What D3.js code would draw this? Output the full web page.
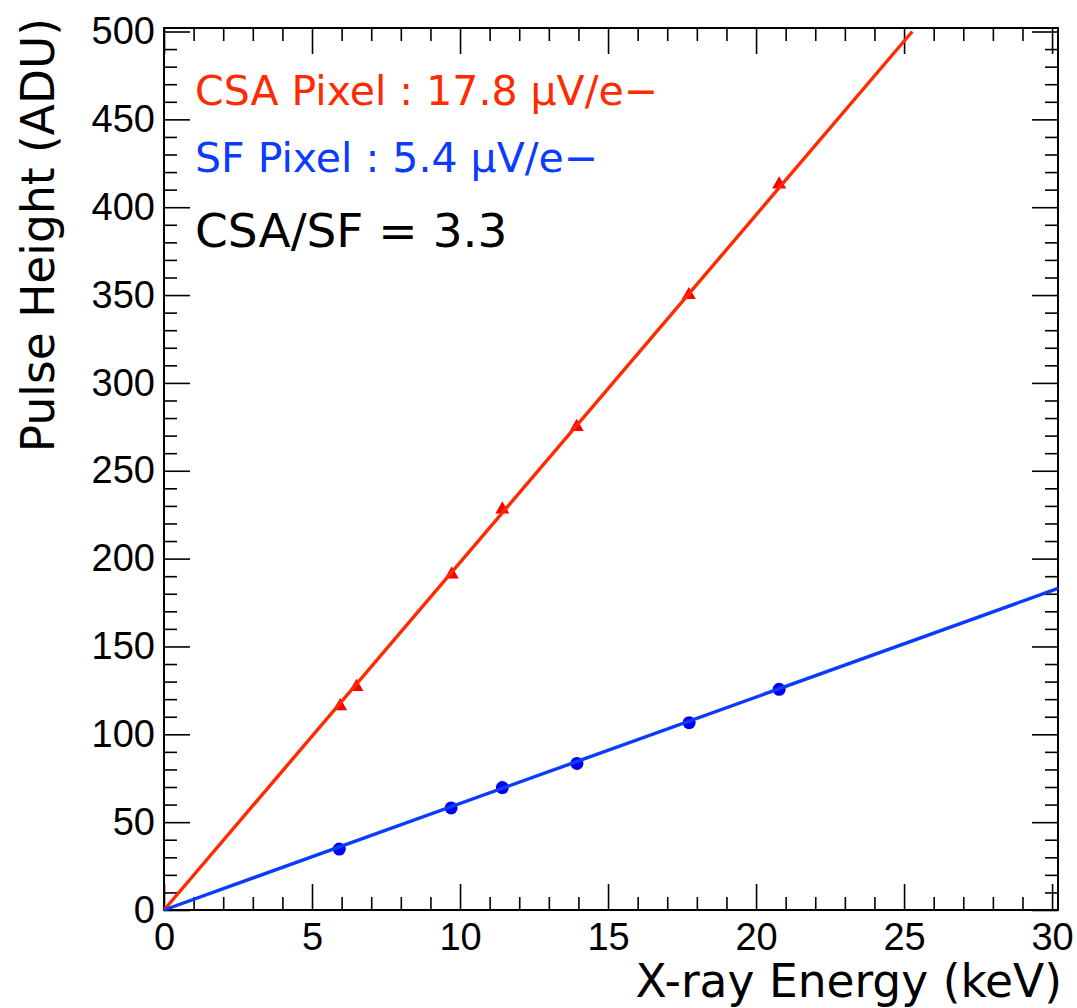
<!DOCTYPE html>
<html>
<head>
<meta charset="utf-8">
<script src="https://cdn.jsdelivr.net/npm/d3@7"></script>
<style>
  body { margin: 0; background: #fff; }
  .tick text { font-family: "Liberation Sans", Arial, sans-serif; }
</style>
</head>
<body>
<div id="chart"></div>
<script>
const width = 1077;
const height = 1008;

// Measured points (X-ray energy in keV, pulse height in ADU)
const csaEnergy = [5.95, 6.5, 9.72, 11.43, 13.94, 17.73, 20.78];
const csaHeight = [116, 127, 191, 228, 275, 350, 413];
const sfEnergy = [5.92, 9.7, 11.43, 13.95, 17.74, 20.78];
const sfHeight = [34.7, 58.1, 69.7, 83.4, 106.6, 125.6];

// Linear fits through the origin (ADU per keV)
const csaSlope = 19.78;
const sfSlope = 6.06;

const legendLines = ["CSA Pixel : 17.8 µV/e−", "SF Pixel : 5.4 µV/e−", "CSA/SF = 3.3"];
const xTicks = [0, 5, 10, 15, 20, 25, 30];
const yTicks = [0, 50, 100, 150, 200, 250, 300, 350, 400, 450, 500];

const margin = { top: 28, right: 19, bottom: 98, left: 164 };
const xMax = 30.2, yMax = 502;

const svg = d3.select("#chart")
    .append("svg")
    .attr("width", width)
    .attr("height", height);

const x = d3.scaleLinear().domain([0, xMax]).range([margin.left, width - margin.right]);
const y = d3.scaleLinear().domain([0, yMax]).range([height - margin.bottom, margin.top]);

const xMinor = d3.range(0, 31, 1).filter(v => v % 5 !== 0);
const yMinor = d3.range(0, 501, 10).filter(v => v % 50 !== 0);

const red = "#ff2a00", blue = "#0a3cff";

// Ticks on all four sides, pointing inward (major + minor)
function drawAxis(axisFn, scale, transform, major, minor, labels) {
    const g = svg.append("g").attr("transform", transform);
    g.call(axisFn(scale).tickValues(minor).tickSize(-13).tickFormat(""));
    const gm = svg.append("g").attr("transform", transform);
    gm.call(axisFn(scale).tickValues(major).tickSize(-26)
        .tickPadding(labels ? labels.pad : 0)
        .tickFormat(labels ? d3.format("d") : ""));
    [g, gm].forEach(s => {
        s.select(".domain").remove();
        s.selectAll("line").attr("stroke", "#000").attr("stroke-width", 1.6);
    });
    gm.selectAll("text").attr("font-size", 38).attr("fill", "#000");
    return gm;
}

drawAxis(d3.axisBottom, x, `translate(0,${y(0)})`, xTicks, xMinor, { pad: 13 });
drawAxis(d3.axisTop, x, `translate(0,${margin.top})`, xTicks, xMinor, null);
drawAxis(d3.axisLeft, y, `translate(${x(0)},0)`, yTicks, yMinor, { pad: 9 });
drawAxis(d3.axisRight, y, `translate(${width - margin.right},0)`, yTicks, yMinor, null);

// Frame
svg.append("rect")
    .attr("x", margin.left)
    .attr("y", margin.top)
    .attr("width", width - margin.right - margin.left)
    .attr("height", height - margin.bottom - margin.top)
    .attr("fill", "none")
    .attr("stroke", "#000")
    .attr("stroke-width", 2);

// Markers
svg.selectAll(".csa")
    .data(csaEnergy.map((e, i) => [e, csaHeight[i]]))
    .enter()
    .append("path")
    .attr("class", "csa")
    .attr("d", d3.symbol(d3.symbolTriangle).size(85))
    .attr("transform", d => `translate(${x(d[0])},${y(d[1])})`)
    .attr("fill", "#ff0000");

svg.selectAll(".sf")
    .data(sfEnergy.map((e, i) => [e, sfHeight[i]]))
    .enter()
    .append("circle")
    .attr("class", "sf")
    .attr("cx", d => x(d[0]))
    .attr("cy", d => y(d[1]))
    .attr("r", 6.5)
    .attr("fill", "#0000f0");

// Fit lines, clipped to the frame
const line = d3.line().x(d => x(d[0])).y(d => y(d[1]));
[[csaSlope, red], [sfSlope, blue]].forEach(([k, col]) => {
    const xEnd = Math.min(xMax, 500 / k);
    svg.append("path")
        .attr("d", line([[0, 0], [xEnd, k * xEnd]]))
        .attr("fill", "none")
        .attr("stroke", col)
        .attr("stroke-width", 3.4);
});

// Legend text
const legendFont = "'DejaVu Sans', 'Lucida Grande', sans-serif";
svg.append("text").attr("x", 195).attr("y", 105)
    .attr("font-family", legendFont).attr("font-size", 41).attr("fill", red)
    .text(legendLines[0]);
svg.append("text").attr("x", 195).attr("y", 172)
    .attr("font-family", legendFont).attr("font-size", 41).attr("fill", blue)
    .text(legendLines[1]);
svg.append("text").attr("x", 195).attr("y", 247)
    .attr("font-family", legendFont).attr("font-size", 47).attr("fill", "#000")
    .text(legendLines[2]);

// Axis titles
svg.append("text")
    .attr("x", 1062).attr("y", 997)
    .attr("text-anchor", "end")
    .attr("font-family", legendFont).attr("font-size", 45.5)
    .text("X-ray Energy (keV)");

svg.append("text")
    .attr("transform", "translate(54,18) rotate(-90)")
    .attr("text-anchor", "end")
    .attr("font-family", legendFont).attr("font-size", 45.5)
    .text("Pulse Height (ADU)");
</script>
</body>
</html>
